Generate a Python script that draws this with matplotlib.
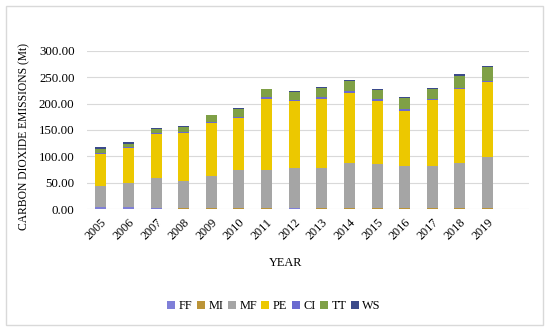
import matplotlib
matplotlib.use("Agg")
import matplotlib.pyplot as plt
import numpy as np
from matplotlib.patches import Rectangle

# values (Mt CO2), stacked bottom to top
years = ["2005", "2006", "2007", "2008", "2009", "2010", "2011", "2012",
         "2013", "2014", "2015", "2016", "2017", "2018", "2019"]
ff = [4, 4, 2, 1, 1, 1, 1, 2, 1, 1, 1, 1, 1, 1, 1]
mi = [1, 1, 1, 1, 1, 1, 1, 1, 1, 1, 1, 1, 1, 1, 1]
mf = [39, 44, 56, 52, 61, 72, 72, 75, 76, 86, 84, 80, 80, 85, 96]
pe = [61, 67, 84, 91, 100, 99, 135, 126, 131, 132, 119, 104, 124, 140, 142]
ci = [1, 1, 1, 1, 2, 2, 3, 3, 4, 3, 3, 3, 3, 2, 3]
tt = [9, 7, 7, 10, 13, 14, 15, 15, 16, 19, 18, 21, 18, 24, 26]
ws = [2, 3, 2, 1, 1, 2, 1, 2, 2, 2, 2, 2, 2, 2, 2]

series = ["FF", "MI", "MF", "PE", "CI", "TT", "WS"]
colors = ["#7f7fd8", "#bb9438", "#a5a5a5", "#ecc800", "#6a6ad0", "#7fa046", "#3b4a8a"]

plt.rcParams['font.family'] = ['Liberation Serif', 'DejaVu Serif']

fig = plt.figure(figsize=(5.5, 3.32), dpi=100)
fig.patches.append(Rectangle((6 / 550, 1 - 325 / 332), 537 / 550, 319 / 332,
                             transform=fig.transFigure, fill=False,
                             edgecolor="#d9d9d9", linewidth=1))

ax = fig.add_axes([87 / 550, 1 - 209.3 / 332, 442 / 550, 158.6 / 332])

x = np.arange(len(years))
bottom = np.zeros(len(years))
for name, vals, col in zip(series, [ff, mi, mf, pe, ci, tt, ws], colors):
    ax.bar(x, vals, 0.4, bottom=bottom, color=col, label=name, zorder=3)
    bottom += np.array(vals)

ax.set_xlim(-0.5, 15.5)
ax.set_ylim(0, 300)
ax.set_yticks(np.arange(0, 301, 50))
ax.set_yticklabels([f"{v:.2f}" for v in np.arange(0, 301, 50)], fontsize=9.3)
ax.set_xticks(x)
ax.set_xticklabels(years, fontsize=8.8, rotation=45, ha="right", va="top",
                   rotation_mode="anchor")
ax.tick_params(axis="both", length=0)
ax.tick_params(axis="y", pad=9)
ax.tick_params(axis="x", pad=5)
ax.grid(axis="y", color="#d9d9d9", linewidth=0.8, zorder=0)
for s in ax.spines.values():
    s.set_visible(False)

fig.text(286 / 550, 1 - 263 / 332, "YEAR", ha="center", va="center", fontsize=8.8)
fig.text(24 / 550, 1 - 137 / 332, "CARBON DIOXIDE EMISSIONS (Mt)", ha="center",
         va="center", rotation=90, fontsize=8.4)

fig.legend(loc="center", bbox_to_anchor=(274 / 550, 1 - 306 / 332), ncol=7,
           frameon=False, fontsize=8.8, handlelength=0.65, handleheight=0.65,
           handletextpad=0.3, columnspacing=0.35)

fig.savefig("out.png", dpi=100)
